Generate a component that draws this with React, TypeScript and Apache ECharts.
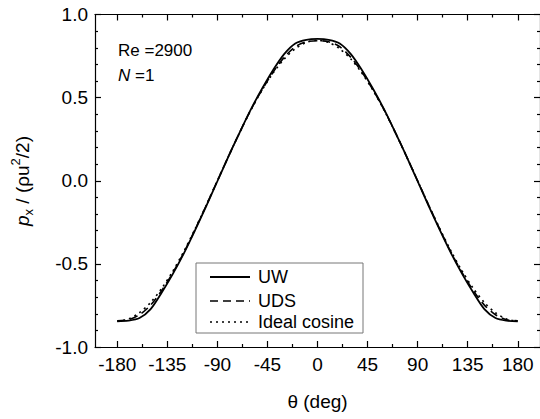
import React, { useEffect, useRef } from "react";
import * as echarts from "echarts";

const theta = [-180, -170, -160, -150, -140, -130, -120, -110, -100, -90, -80, -70, -60, -50, -40, -30, -20, -10, 0, 10, 20, 30, 40, 50, 60, 70, 80, 90, 100, 110, 120, 130, 140, 150, 160, 170, 180];
const uw = [-0.845, -0.842, -0.826, -0.772, -0.672, -0.56, -0.435, -0.297, -0.152, -0.003, 0.146, 0.29, 0.428, 0.552, 0.665, 0.762, 0.826, 0.848, 0.853, 0.848, 0.826, 0.762, 0.665, 0.552, 0.428, 0.29, 0.146, -0.003, -0.152, -0.297, -0.435, -0.56, -0.672, -0.772, -0.826, -0.842, -0.845];
const uds = [-0.842, -0.836, -0.806, -0.748, -0.66, -0.553, -0.43, -0.293, -0.148, 0.0, 0.147, 0.29, 0.425, 0.545, 0.652, 0.742, 0.806, 0.836, 0.842, 0.836, 0.806, 0.742, 0.652, 0.545, 0.425, 0.29, 0.147, 0.0, -0.148, -0.293, -0.43, -0.553, -0.66, -0.748, -0.806, -0.836, -0.842];
const cosine = [-0.845, -0.832, -0.794, -0.732, -0.647, -0.543, -0.423, -0.289, -0.147, 0.0, 0.147, 0.289, 0.423, 0.543, 0.647, 0.732, 0.794, 0.832, 0.845, 0.832, 0.794, 0.732, 0.647, 0.543, 0.423, 0.289, 0.147, 0.0, -0.147, -0.289, -0.423, -0.543, -0.647, -0.732, -0.794, -0.832, -0.845];
const xMajorTicks = [-180, -135, -90, -45, 0, 45, 90, 135, 180];
const xMinorTicks = [-157.5, -112.5, -67.5, -22.5, 22.5, 67.5, 112.5, 157.5];
const seriesNames = ["UW", "UDS", "Ideal cosine"];

const FONT = "'Liberation Sans', Arial, sans-serif";

export default function App() {
  const ref = useRef<HTMLDivElement>(null);
  useEffect(() => {
    if (!ref.current) return;
    const chart = echarts.init(ref.current, null, { renderer: "svg" });
    const axisLine = { show: true, onZero: false, lineStyle: { color: "#000", width: 1.2 } };
    const noLine = { show: false, onZero: false };
    const baseX = { type: "value", min: -200, max: 200, splitLine: { show: false } };
    const xAxes: any[] = [
      {
        ...baseX,
        position: "bottom",
        axisLine,
        axisTick: { show: true, inside: true, length: 6, customValues: xMajorTicks, lineStyle: { color: "#000", width: 1.2 } },
        axisLabel: { show: true, customValues: xMajorTicks, color: "#000", fontSize: 19, fontFamily: FONT, margin: 8 },
        name: "θ (deg)",
        nameLocation: "middle",
        nameGap: 45,
        nameTextStyle: { color: "#000", fontSize: 19, fontFamily: FONT },
      },
      {
        ...baseX,
        position: "bottom",
        axisLine: noLine,
        axisTick: { show: true, inside: true, length: 3, customValues: xMinorTicks, lineStyle: { color: "#000", width: 1.2 } },
        axisLabel: { show: false },
      },
      {
        ...baseX,
        position: "top",
        axisLine,
        axisTick: { show: true, inside: true, length: 6, customValues: xMajorTicks, lineStyle: { color: "#000", width: 1.2 } },
        axisLabel: { show: false },
      },
      {
        ...baseX,
        position: "top",
        axisLine: noLine,
        axisTick: { show: true, inside: true, length: 3, customValues: xMinorTicks, lineStyle: { color: "#000", width: 1.2 } },
        axisLabel: { show: false },
      },
    ];
    const baseY = {
      type: "value",
      min: -1,
      max: 1,
      interval: 0.5,
      splitLine: { show: false },
      axisLine,
      axisTick: { show: true, inside: true, length: 6, lineStyle: { color: "#000", width: 1.2 } },
      minorTick: { show: true, splitNumber: 5, length: 3, lineStyle: { color: "#000", width: 1.2 } },
    };
    const yAxes: any[] = [
      {
        ...baseY,
        position: "left",
        axisLabel: { show: true, color: "#000", fontSize: 19, fontFamily: FONT, margin: 7, formatter: (v: number) => v.toFixed(1) },
      },
      { ...baseY, position: "right", axisLabel: { show: false } },
    ];
    const lineTypes: any[] = ["solid", [8, 5], [2, 4]];
    const datasets = [uw, uds, cosine];
    const series = datasets.map((vals, i) => ({
      name: seriesNames[i],
      type: "line",
      xAxisIndex: 0,
      yAxisIndex: 0,
      data: theta.map((t, j) => [t, vals[j]]),
      showSymbol: false,
      smooth: 0.3,
      lineStyle: { color: "#000", width: i === 0 ? 1.8 : 1.6, type: lineTypes[i] },
      z: 3 - i,
    }));
    const lgX = 196, lgY = 263;
    const rowY = [14, 38, 59];
    const legendChildren: any[] = [
      { type: "rect", shape: { x: 0, y: 0, width: 167, height: 70 }, style: { fill: "#fff", stroke: "#777", lineWidth: 1 } },
    ];
    seriesNames.forEach((n, i) => {
      legendChildren.push({
        type: "line",
        shape: { x1: 14, y1: rowY[i], x2: 54, y2: rowY[i] },
        style: { stroke: "#000", lineWidth: i === 0 ? 1.8 : 1.6, lineDash: i === 0 ? null : lineTypes[i] },
      });
      legendChildren.push({
        type: "text",
        x: 62,
        y: rowY[i],
        style: { text: n, fill: "#000", fontSize: 18, fontFamily: FONT, verticalAlign: "middle", align: "left" },
      });
    });
    chart.setOption({
      animation: false,
      backgroundColor: "#fff",
      grid: { left: 95, right: -2, top: 14.5, bottom: 72, containLabel: false },
      xAxis: xAxes,
      yAxis: yAxes,
      series,
      graphic: [
        {
          type: "text",
          x: 22,
          y: 181,
          rotation: Math.PI / 2,
          style: {
            text: "{i|p}{sub|x}{n| / (ρu}{sup|2}{n|/2)}",
            align: "center",
            verticalAlign: "middle",
            fontFamily: FONT,
            fill: "#000",
            rich: {
              i: { fontSize: 19, fontStyle: "italic", fontFamily: FONT, lineHeight: 26, verticalAlign: "middle" },
              n: { fontSize: 19, fontFamily: FONT, lineHeight: 26, verticalAlign: "middle" },
              sub: { fontSize: 13, fontFamily: FONT, lineHeight: 26, verticalAlign: "bottom", padding: [8, 0, 0, 0] },
              sup: { fontSize: 13, fontFamily: FONT, lineHeight: 26, verticalAlign: "top", padding: [0, 0, 8, 0] },
            },
          },
        },
        {
          type: "text",
          x: 118,
          y: 50,
          style: { text: "Re =2900", fill: "#000", fontSize: 17, fontFamily: FONT, verticalAlign: "middle" },
        },
        {
          type: "text",
          x: 118,
          y: 75,
          style: {
            text: "{i|N}{n| =1}",
            verticalAlign: "middle",
            fill: "#000",
            rich: {
              i: { fontSize: 17, fontStyle: "italic", fontFamily: FONT },
              n: { fontSize: 17, fontFamily: FONT },
            },
          },
        },
        { type: "group", x: lgX, y: lgY, children: legendChildren, z: 10 },
      ],
    });
    return () => chart.dispose();
  }, []);
  return (
    <div style={{ position: "fixed", left: 0, top: 0, width: 540, height: 419, overflow: "hidden", background: "#fff" }}>
      <div ref={ref} style={{ width: 540, height: 419 }} />
    </div>
  );
}
